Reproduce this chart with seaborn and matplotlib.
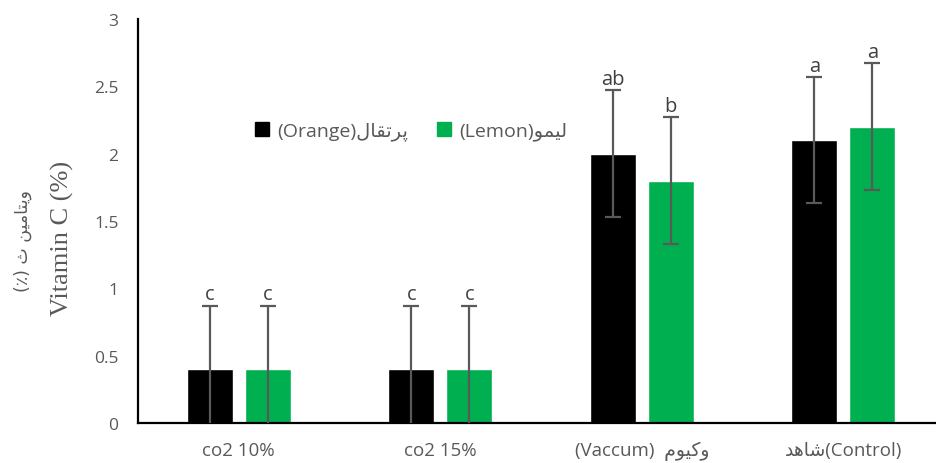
import matplotlib
matplotlib.use("Agg")
import matplotlib.pyplot as plt
import seaborn as sns
import pandas as pd
from matplotlib.patches import Patch

# Shaped (visual-order) Persian strings
fa_orange = "\uFEDD\uFE8E\uFED8\uFE97\uFEAE\uFB58"      # پرتقال
fa_lemon = "\uFEEE\uFEE4\uFBFF\uFEDF"                  # لیمو
fa_vacuum = "\uFEE1\uFEEE\uFBFF\uFB90\uFEED"           # وکیوم
fa_control = "\uFEAA\uFEEB\uFE8E\uFEB7"                # شاهد
fa_ylabel = "(\u066A) \uFE99 \uFEE6\uFBFF\uFEE3\uFE8E\uFE98\uFBFE\uFEED"  # ویتامین ث (٪)

categories = ["co2 10%", "co2 15%", "(Vaccum)  " + fa_vacuum, fa_control + "(Control)"]
series_names = ["(Orange)" + fa_orange, "(Lemon)" + fa_lemon]
orange_vals = [0.4, 0.4, 2.0, 2.1]
lemon_vals = [0.4, 0.4, 1.8, 2.2]
orange_err = [0.47, 0.47, 0.47, 0.47]
lemon_err = [0.47, 0.47, 0.47, 0.47]
orange_letters = ["c", "c", "ab", "a"]
lemon_letters = ["c", "c", "b", "a"]
colors = ["#000000", "#00B050"]
yticks = [0, 0.5, 1, 1.5, 2, 2.5, 3]
ytick_labels = ["0", "0.5", "1", "1.5", "2", "2.5", "3"]

df = pd.DataFrame({
    "cat": categories * 2,
    "series": [series_names[0]] * 4 + [series_names[1]] * 4,
    "val": orange_vals + lemon_vals,
})
errs = {series_names[0]: orange_err, series_names[1]: lemon_err}
letters = {series_names[0]: orange_letters, series_names[1]: lemon_letters}
vals = {series_names[0]: orange_vals, series_names[1]: lemon_vals}

sns.set_style("white")
fam = ["Open Sans", "DejaVu Sans"]
plt.rcParams["font.family"] = fam
gray = "#595959"

fig = plt.figure(figsize=(9.36, 4.64), dpi=100)
ax = fig.add_axes([138 / 936, 40 / 464, 797 / 936, 404 / 464])

sns.barplot(data=df, x="cat", y="val", hue="series", order=categories,
            hue_order=series_names, palette=colors, width=0.576, gap=0.208,
            errorbar=None, saturation=1, ax=ax, legend=False)

# error bars and letters from bar positions
bars = [p for p in ax.patches]
for i, s in enumerate(series_names):
    for j in range(len(categories)):
        p = bars[i * len(categories) + j]
        xc = p.get_x() + p.get_width() / 2
        v = vals[s][j]
        e = errs[s][j]
        ax.errorbar(xc, v, yerr=e, fmt="none", ecolor=gray, elinewidth=1.6,
                    capsize=6, capthick=1.6, clip_on=True, zorder=3)
        ax.annotate(letters[s][j], (xc, v + e), xytext=(0, 1),
                    textcoords="offset points", ha="center", va="bottom",
                    fontsize=14.5, color="#404040")

ax.set_xlim(-0.5, 3.455)
ax.set_ylim(0, 3)
ax.set_yticks(yticks)
ax.set_yticklabels(ytick_labels)
ax.set_xticks([-0.5, 0.5, 1.5, 2.5])
ax.set_xticklabels([])
ax.set_xticks(range(len(categories)), minor=True)
ax.set_xticklabels(categories, minor=True)
ax.tick_params(axis="x", which="major", length=6, width=1.2, color="black", direction="out")
ax.tick_params(axis="x", which="minor", length=0, pad=13, labelsize=13.5, labelcolor=gray)
ax.tick_params(axis="y", length=6, width=1.2, color="black", direction="out",
               labelsize=12.5, labelcolor=gray, pad=8)
ax.set_xlabel("")
ax.set_ylabel("")
sns.despine(ax=ax)
for sp in ["left", "bottom"]:
    ax.spines[sp].set_color("black")
    ax.spines[sp].set_linewidth(1.6)

handles = [Patch(facecolor=c, edgecolor=c) for c in colors]
ax.legend(handles, series_names, ncol=2, frameon=False, loc="center",
          bbox_to_anchor=(0.343, 0.723), handlelength=0.7, handleheight=0.7,
          handletextpad=0.45, columnspacing=1.5, fontsize=14, labelcolor=gray)

fig.text(62 / 936, 1 - 238 / 464, "Vitamin C (%)", rotation=90, ha="center",
         va="center", fontsize=19, color=gray, family="Liberation Serif")
fig.text(23 / 936, 1 - 241 / 464, fa_ylabel, rotation=90, ha="center",
         va="center", fontsize=12.5, color=gray, family=["DejaVu Sans"])

fig.savefig("out.png", dpi=100)
